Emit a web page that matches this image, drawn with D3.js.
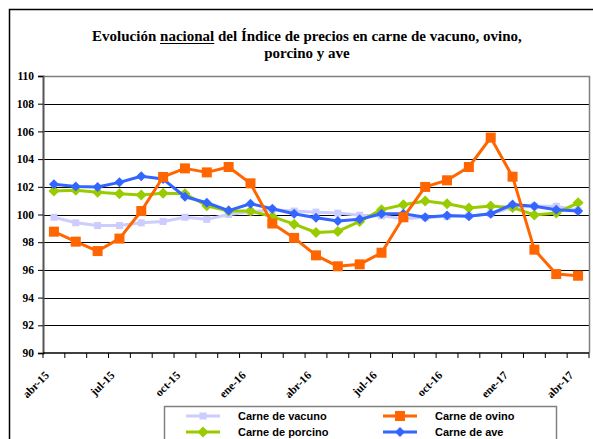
<!doctype html>
<html lang="es">
<head>
<meta charset="utf-8">
<title>Índice de precios en carne</title>
<script src="https://d3js.org/d3.v7.min.js"></script>
<style>
  body { margin: 0; background: #fff; }
  svg { display: block; }
  .serif { font-family: "Liberation Serif", "Times New Roman", serif; font-weight: bold; }
  .sans { font-family: "Liberation Sans", Arial, sans-serif; font-weight: bold; }
</style>
</head>
<body>
<div id="chart"></div>
<script>
// months, abr-15 .. abr-17
var months = ["abr-15","may-15","jun-15","jul-15","ago-15","sep-15","oct-15","nov-15","dic-15",
  "ene-16","feb-16","mar-16","abr-16","may-16","jun-16","jul-16","ago-16","sep-16","oct-16","nov-16","dic-16",
  "ene-17","feb-17","mar-17","abr-17"];

var vacuno = [99.8, 99.4, 99.2, 99.2, 99.4, 99.5, 99.8, 99.65, 100.0, 100.2, 100.35, 100.25, 100.17,
  100.1, 99.95, 99.9, 99.7, 99.8, 99.85, 99.9, 100.05, 100.5, 100.6, 100.6, 100.3];
var ovino = [98.76, 98.04, 97.36, 98.26, 100.25, 102.71, 103.33, 103.04, 103.43, 102.25, 99.35, 98.31, 97.05,
  96.26, 96.4, 97.24, 99.8, 101.99, 102.47, 103.43, 105.55, 102.73, 97.46, 95.7, 95.58];
var porcino = [101.7, 101.75, 101.6, 101.5, 101.41, 101.53, 101.5, 100.63, 100.25, 100.25, 99.85, 99.3, 98.7,
  98.78, 99.5, 100.35, 100.7, 100.97, 100.78, 100.47, 100.62, 100.5, 99.97, 100.1, 100.84];
var ave = [102.18, 102.03, 101.99, 102.32, 102.76, 102.56, 101.28, 100.85, 100.28, 100.78, 100.42, 100.05, 99.77,
  99.53, 99.65, 100.05, 100.05, 99.8, 99.93, 99.88, 100.05, 100.73, 100.6, 100.35, 100.25];

var yTicks = [90, 92, 94, 96, 98, 100, 102, 104, 106, 108, 110];

var series = [
  { name: "Carne de vacuno", values: vacuno, color: "#ccccff", shape: "vsq" },
  { name: "Carne de porcino", values: porcino, color: "#99cc00", shape: "diamond" },
  { name: "Carne de ave", values: ave, color: "#3366ff", shape: "diamond2" },
  { name: "Carne de ovino", values: ovino, color: "#ff6600", shape: "square" }
];
var legendOrder = [
  [series[0], 0, 0], [series[3], 1, 0],
  [series[1], 0, 1], [series[2], 1, 1]
];

var W = 593, H = 439;
var plot = { left: 43, right: 589, top: 76, bottom: 353 };

var svg = d3.select("#chart").append("svg")
  .attr("width", W).attr("height", H);

// outer frame (runs off the page right and bottom)
svg.append("rect")
  .attr("x", 9.5).attr("y", 9.5).attr("width", 700).attr("height", 600)
  .attr("fill", "none").attr("stroke", "#000").attr("stroke-width", 1.5);

// title
var title = svg.append("text").attr("class", "serif")
  .attr("x", 307).attr("y", 41).attr("text-anchor", "middle")
  .style("font-size", "15px");
title.append("tspan").text("Evolución ");
var nac = title.append("tspan").text("nacional");
title.append("tspan").text(" del Índice de precios en carne de vacuno, ovino,");
svg.append("text").attr("class", "serif")
  .attr("x", 307).attr("y", 58).attr("text-anchor", "middle")
  .style("font-size", "15px")
  .text("porcino y ave");
var nb = nac.node().getBBox();
svg.append("line")
  .attr("x1", nb.x).attr("x2", nb.x + nb.width)
  .attr("y1", 43.5).attr("y2", 43.5)
  .attr("stroke", "#000").attr("stroke-width", 1);

var x = d3.scaleBand().domain(months).range([plot.left, plot.right]);
var y = d3.scaleLinear().domain([90, 110]).range([plot.bottom, plot.top]);

// grid
svg.append("g").selectAll("line")
  .data(yTicks.filter(function (d) { return d > 90 && d < 110; }))
  .join("line")
  .attr("x1", plot.left).attr("x2", plot.right)
  .attr("y1", function (d) { return Math.round(y(d)) + 0.5; })
  .attr("y2", function (d) { return Math.round(y(d)) + 0.5; })
  .attr("stroke", "#000").attr("stroke-width", 1);

// plot border top / right
svg.append("path")
  .attr("d", "M" + plot.left + "," + (plot.top + 0.5) + "H" + (plot.right + 0.5) + "V" + plot.bottom)
  .attr("fill", "none").attr("stroke", "#808080").attr("stroke-width", 1.5);

// y axis
var yAxis = svg.append("g")
  .attr("transform", "translate(" + plot.left + ",0)")
  .call(d3.axisLeft(y).tickValues(yTicks).tickSize(5).tickPadding(4).tickFormat(d3.format("d")));
yAxis.select(".domain").attr("stroke", "#555").attr("stroke-width", 2);
yAxis.selectAll(".tick line").attr("stroke", "#000");
yAxis.selectAll("text").attr("class", "serif").style("font-size", "11.5px").attr("fill", "#000");

// x axis: ticks at category boundaries, a label every 3 months
var xAxis = svg.append("g")
  .attr("transform", "translate(0," + plot.bottom + ")");
xAxis.append("line")
  .attr("x1", plot.left).attr("x2", plot.right)
  .attr("stroke", "#000").attr("stroke-width", 1.5);
xAxis.selectAll("line.tk")
  .data(months.concat(["end"]))
  .join("line").attr("class", "tk")
  .attr("x1", function (d, i) { return plot.left + i * x.step(); })
  .attr("x2", function (d, i) { return plot.left + i * x.step(); })
  .attr("y1", 0).attr("y2", 5)
  .attr("stroke", "#000");
xAxis.selectAll("text")
  .data(months.filter(function (d, i) { return i % 3 === 0; }))
  .join("text").attr("class", "serif")
  .style("font-size", "11.5px")
  .attr("text-anchor", "end")
  .attr("transform", function (d) {
    return "translate(" + (x(d) + x.bandwidth() / 2 - 4) + ",23) rotate(-45)";
  })
  .text(function (d) { return d; });

function marker(sel, shape, color) {
  if (shape === "square") {
    sel.append("rect").attr("x", -5).attr("y", -5).attr("width", 10).attr("height", 10).attr("fill", color);
  } else if (shape === "vsq") {
    sel.append("rect").attr("x", -3.5).attr("y", -3.5).attr("width", 7).attr("height", 7).attr("fill", color);
  } else {
    var r = shape === "diamond" ? 5.5 : 5;
    sel.append("path").attr("d", "M0," + (-r) + "L" + r + ",0L0," + r + "L" + (-r) + ",0Z").attr("fill", color);
  }
}

var line = d3.line()
  .x(function (d, i) { return x(months[i]) + x.bandwidth() / 2; })
  .y(function (d) { return y(d); });

series.forEach(function (s) {
  var g = svg.append("g");
  g.append("path")
    .attr("d", line(s.values))
    .attr("fill", "none").attr("stroke", s.color).attr("stroke-width", 3)
    .attr("stroke-linejoin", "round");
  g.selectAll("g.pt")
    .data(s.values)
    .join("g").attr("class", "pt")
    .attr("transform", function (d, i) {
      return "translate(" + (x(months[i]) + x.bandwidth() / 2) + "," + y(d) + ")";
    })
    .each(function () { marker(d3.select(this), s.shape, s.color); });
});

// legend
var lg = svg.append("g");
lg.append("rect")
  .attr("x", 164.5).attr("y", 406.5).attr("width", 392).attr("height", 60)
  .attr("fill", "#fff").attr("stroke", "#808080").attr("stroke-width", 1.5);
legendOrder.forEach(function (e) {
  var s = e[0];
  var lx = e[1] === 0 ? 186 : 383;
  var ly = e[2] === 0 ? 416 : 432;
  var item = lg.append("g");
  item.append("line")
    .attr("x1", lx).attr("x2", lx + 34).attr("y1", ly).attr("y2", ly)
    .attr("stroke", s.color).attr("stroke-width", 3);
  var m = item.append("g").attr("transform", "translate(" + (lx + 17) + "," + ly + ")");
  marker(m, s.shape, s.color);
  item.append("text").attr("class", "sans")
    .attr("x", lx + 52).attr("y", ly + 4)
    .style("font-size", "11px")
    .text(s.name);
});
</script>
</body>
</html>
